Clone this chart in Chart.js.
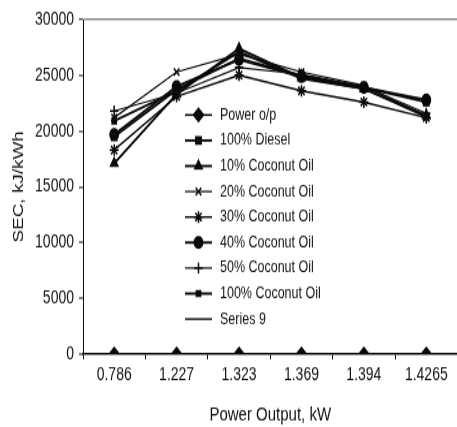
<!DOCTYPE html>
<html>
<head>
<meta charset="utf-8">
<script src="https://cdn.jsdelivr.net/npm/chart.js@4.4.0/dist/chart.umd.min.js"></script>
<style>
  html, body { margin: 0; padding: 0; background: #fff; overflow: hidden; }
  #page { width: 457px; height: 427px; overflow: hidden; position: relative; }
  /* the source picture is stretched vertically, so draw flat and stretch */
  #wrap { width: 464px; height: 328px; transform: scaleY(1.3018); transform-origin: 0 0; }
</style>
</head>
<body>
<div id="page">
  <div id="wrap">
    <canvas id="sec-chart" width="464" height="328"></canvas>
  </div>
</div>
<script>
// Power output categories (kW)
const categories = ["0.786", "1.227", "1.323", "1.369", "1.394", "1.4265"];
const powerOutput = [0.786, 1.227, 1.323, 1.369, 1.394, 1.4265];

// SEC, kJ/kWh per fuel
const diesel100 = [19500, 23700, 26500, 25000, 23900, 22600];
const coconut10 = [17100, 23300, 27400, 24800, 23800, 21400];
const coconut20 = [21200, 25300, 26900, 25300, 24100, 21300];
const coconut30 = [18300, 23100, 25000, 23600, 22600, 21200];
const coconut40 = [19700, 24000, 26400, 24900, 23900, 22800];
const coconut50 = [21800, 23400, 25700, 25100, 24000, 21600];
const coconut100 = [20900, 23600, 27100, 24700, 23800, 21300];
const series9 = [];

const yTicks = [0, 5000, 10000, 15000, 20000, 25000, 30000];

const FONT = "'Liberation Sans', Arial, sans-serif";
const INK = "#0a0a0a";

function line(label, data, style, radius, width) {
  return {
    label: label,
    data: data,
    borderColor: INK,
    backgroundColor: INK,
    borderWidth: width,
    pointStyle: style,
    pointRadius: radius,
    pointHoverRadius: radius,
    pointBorderWidth: 1.5,
    pointBorderColor: INK,
    pointBackgroundColor: INK,
    tension: 0,
    fill: false
  };
}

const datasets = [
  line("Power o/p", powerOutput, "rectRot", 5, 1.5),
  line("100% Diesel", diesel100, "rect", 3.8, 1.9),
  line("10% Coconut Oil", coconut10, "triangle", 4.2, 1.9),
  line("20% Coconut Oil", coconut20, "crossRot", 4, 1.2),
  line("30% Coconut Oil", coconut30, "star", 4.5, 1.5),
  line("40% Coconut Oil", coconut40, "circle", 4.2, 1.9),
  line("50% Coconut Oil", coconut50, "cross", 4.2, 1.2),
  line("100% Coconut Oil", coconut100, "rect", 3, 1.9),
  line("Series 9", series9, false, 0, 1.4)
];

// legend box drawn inside the plot, like the original
const insideLegend = {
  id: "insideLegend",
  afterDraw(chart) {
    const ctx = chart.ctx;
    const x0 = 185, x1 = 212, tx = 220;
    const top = 88.3, step = 19.6;
    ctx.save();
    ctx.font = "12.5px " + FONT;
    ctx.textBaseline = "middle";
    ctx.textAlign = "left";
    chart.data.datasets.forEach((ds, i) => {
      const y = top + i * step;
      ctx.strokeStyle = INK;
      ctx.lineWidth = ds.borderWidth;
      ctx.beginPath();
      ctx.moveTo(x0, y);
      ctx.lineTo(x1, y);
      ctx.stroke();
      if (ds.pointStyle) {
        ctx.fillStyle = INK;
        ctx.lineWidth = ds.pointBorderWidth;
        Chart.helpers.drawPoint(ctx, {
          pointStyle: ds.pointStyle,
          radius: ds.pointRadius,
          rotation: 0,
          borderWidth: ds.pointBorderWidth
        }, (x0 + x1) / 2, y);
      }
      ctx.fillStyle = "#111";
      ctx.fillText(ds.label, tx, y);
    });
    ctx.restore();
  }
};

new Chart(document.getElementById("sec-chart"), {
  type: "line",
  data: { labels: categories, datasets: datasets },
  options: {
    responsive: false,
    animation: false,
    devicePixelRatio: 1,
    layout: { padding: { top: 15, right: 0, left: 0, bottom: 0 } },
    plugins: {
      legend: { display: false },
      tooltip: { enabled: false }
    },
    scales: {
      x: {
        offset: true,
        afterFit(scale) { scale.height = 56; },
        grid: {
          offset: true,
          drawOnChartArea: false,
          tickLength: 4,
          tickColor: INK,
          tickWidth: 1
        },
        border: { color: INK, width: 1.4 },
        ticks: {
          color: "#111",
          font: { family: FONT, size: 14 },
          padding: 4,
          maxRotation: 0,
          autoSkip: false
        },
        title: {
          display: true,
          text: "Power Output, kW",
          color: "#111",
          font: { family: FONT, size: 15, lineHeight: 1 },
          padding: { top: 0, bottom: 2 }
        }
      },
      y: {
        min: 0,
        max: 30000,
        afterFit(scale) { scale.width = 83; },
        afterBuildTicks(scale) { scale.ticks = yTicks.map(v => ({ value: v })); },
        grid: {
          drawOnChartArea: true,
          color: c => (c.tick && c.tick.value === 30000 ? "#8c8c8c" : "rgba(0,0,0,0)"),
          lineWidth: c => (c.tick && c.tick.value === 30000 ? 1.5 : 0),
          tickLength: 4,
          tickColor: INK,
          tickWidth: 1
        },
        border: { color: INK, width: 1 },
        ticks: {
          color: "#111",
          font: { family: FONT, size: 14 },
          padding: 5,
          callback: v => String(v)
        },
        title: {
          display: true,
          text: "SEC, kJ/kWh",
          color: "#111",
          font: { family: FONT, size: 14.5, lineHeight: 1.2 },
          padding: { top: 10, bottom: 0 }
        }
      }
    }
  },
  plugins: [insideLegend]
});
</script>
</body>
</html>
